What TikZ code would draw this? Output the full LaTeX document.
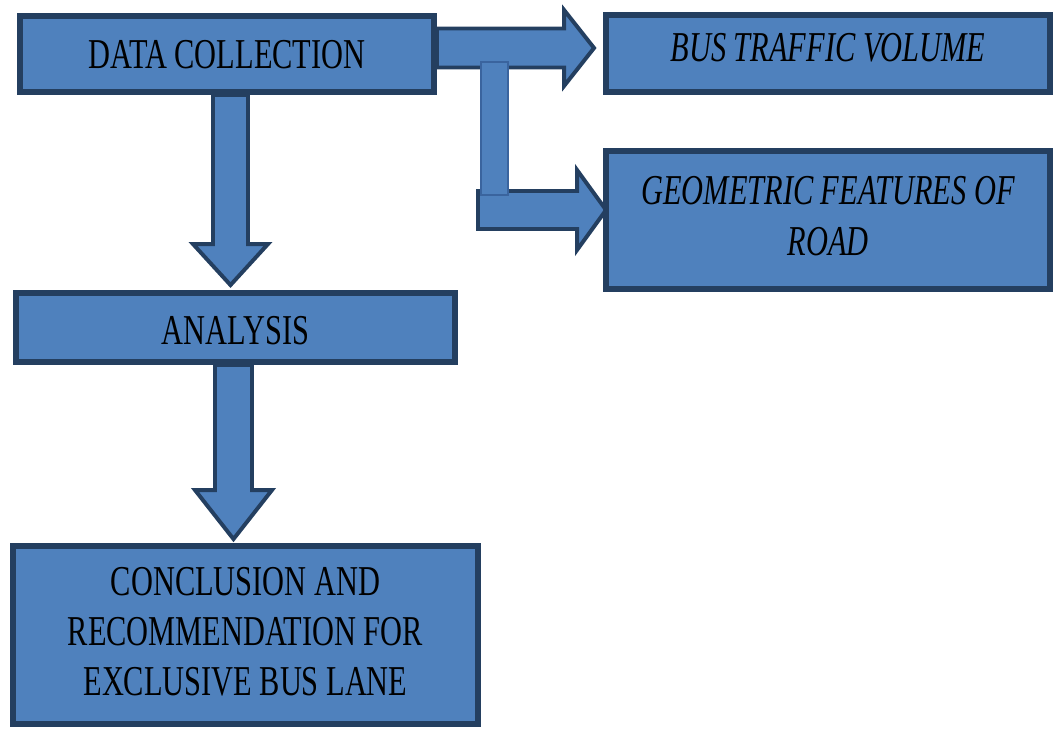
\documentclass[tikz,border=0pt]{standalone}
\usepackage{fontspec}
\setmainfont{Liberation Serif}
\usepackage{graphicx}
\usetikzlibrary{calc,backgrounds}
\definecolor{boxfill}{HTML}{4F81BD}
\definecolor{boxline}{HTML}{243F60}
\definecolor{barline}{HTML}{3A649E}
% text is printed tall and narrow in the figure
\newcommand{\tallstack}[1]{\scalebox{1}[1.4]{\begin{tabular}{@{}c@{}}#1\end{tabular}}}
% move text up/down without changing its box
\newcommand{\nudge}[2]{\raisebox{#1}[\height][\depth]{#2}}
% block arrows: #1 shaft start, #2 tip, #3 shaft half width, #4 head half width, #5 head length
\newcommand{\downblock}[5]{%
  \draw[blockarrow] ($(#1)+(-#3,0)$) -- ($(#2)+(-#3,-#5)$) -- ($(#2)+(-#4,-#5)$) -- (#2)
    -- ($(#2)+(#4,-#5)$) -- ($(#2)+(#3,-#5)$) -- ($(#1)+(#3,0)$) -- cycle;}
\newcommand{\rightblock}[5]{%
  \draw[blockarrow] ($(#1)+(0,-#3)$) -- ($(#2)+(-#5,-#3)$) -- ($(#2)+(-#5,-#4)$) -- (#2)
    -- ($(#2)+(-#5,#4)$) -- ($(#2)+(-#5,#3)$) -- ($(#1)+(0,#3)$) -- cycle;}
\begin{document}
\begin{tikzpicture}[x=0.025cm, y=-0.025cm,
  flowbox/.style={draw=boxline, fill=boxfill, line width=4.2pt, inner sep=0pt,
    font=\fontsize{21.6}{25.4}\selectfont},
  blockarrow/.style={draw=boxline, fill=boxfill, line width=2.8pt, line join=miter}]
  \useasboundingbox (0,0) rectangle (1054,729);
  % Boxes
  \node[flowbox, minimum width=414*0.025cm, minimum height=76*0.025cm] (data) at (227,54)
    {\nudge{-3pt}{\tallstack{DATA COLLECTION}}};
  \node[flowbox, minimum width=444*0.025cm, minimum height=77*0.025cm] (bus) at (828,53.5)
    {\nudge{1.5pt}{\tallstack{\itshape BUS TRAFFIC VOLUME}}};
  \node[flowbox, minimum width=444*0.025cm, minimum height=138*0.025cm] (geo) at (828,220)
    {\tallstack{\itshape GEOMETRIC FEATURES OF\\ \itshape ROAD}};
  \node[flowbox, minimum width=439*0.025cm, minimum height=69*0.025cm] (analysis) at (235.5,327.5)
    {\nudge{-5pt}{\tallstack{ANALYSIS}}};
  \node[flowbox, minimum width=465*0.025cm, minimum height=178*0.025cm] (concl) at (245.5,635)
    {\tallstack{CONCLUSION AND\\ RECOMMENDATION FOR\\ EXCLUSIVE BUS LANE}};
  % Arrows behind the boxes
  \begin{pgfonlayer}{background}
    % Downward arrows
    \coordinate (d1top) at ($(data.south)+(3.5,0)$);
    \coordinate (d1tip) at ($(d1top |- analysis.north)+(0,-5)$);
    \downblock{d1top}{d1tip}{17.5}{37.5}{41}
    \coordinate (d2top) at ($(analysis.south)+(-2,0)$);
    \coordinate (d2tip) at ($(d2top |- concl.north)+(0,-4)$);
    \downblock{d2top}{d2tip}{18.5}{38.5}{49}
    % Right arrows
    \coordinate (r1start) at ($(data.east)+(0,-6)$);
    \coordinate (r1tip) at ($(r1start -| bus.west)+(-9,0)$);
    \rightblock{r1start}{r1tip}{19.5}{38}{30}
    \coordinate (r2tip) at ($(geo.west)+(3,-10)$);
    \coordinate (r2start) at (478,0 |- r2tip);
    \rightblock{r2start}{r2tip}{19}{40}{29}
    % Splitting bar
    \coordinate (bartop) at ($(data.east)+(44,8)$);
    \filldraw[fill=boxfill, draw=barline, line width=1.5pt]
      (bartop) rectangle ($(bartop)+(27,133)$);
  \end{pgfonlayer}
\end{tikzpicture}
\end{document}
